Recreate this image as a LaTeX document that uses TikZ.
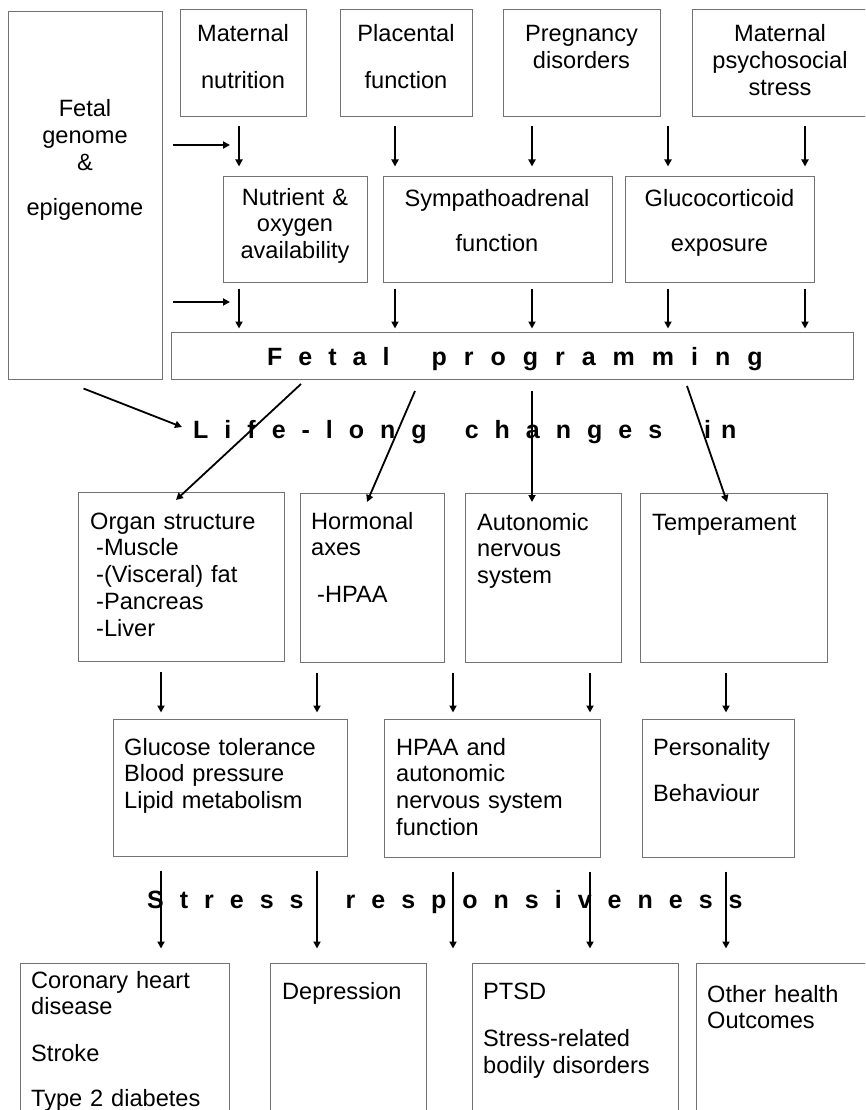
\documentclass[tikz,border=0pt]{standalone}
\usepackage{fontspec}
\setmainfont{Liberation Sans}
\usetikzlibrary{arrows.meta,calc}
\newcommand\lsp{\hspace{16pt}}
\newcommand\lspp{\hspace{17pt}}
\newcommand\wsp{\hspace{42pt}}
\newcommand\bx[5]{\node[box, minimum width=#4pt, minimum height=#5pt] (#1) at (#2,#3) {};}
\begin{document}
\begin{tikzpicture}[x=1pt,y=-1pt,
  box/.style={draw=black!55, line width=1pt, inner sep=0pt, anchor=north west},
  arr/.style={-{Triangle[width=7pt,length=7pt]}, line width=1.8pt, black},
  txt/.style={inner sep=0pt, font=\fontsize{23.6}{26.75}\selectfont},
  ctxt/.style={txt, text width=200pt, align=center, anchor=base},
  ltxt/.style={txt, text width=240pt, align=left, anchor=base west},
  sptxt/.style={inner sep=0pt, font=\fontsize{25}{30}\bfseries\selectfont, anchor=base west}]
\useasboundingbox (0,0) rectangle (865,1110);
\fill[white] (0,0) rectangle (865,1110);
\clip (0,0) rectangle (865,1110);
% boxes
\bx{fg}{8}{11}{154}{368}
\bx{mn}{180}{9}{126}{107}
\bx{pf}{340}{9}{132}{107}
\bx{pd}{503}{9}{157}{107}
\bx{ms}{692}{9}{180}{107}
\bx{no}{223}{176}{144}{106}
\bx{sa}{383}{176}{229}{106}
\bx{gc}{625}{176}{189}{106}
\bx{fp}{171}{332}{682}{47}
\bx{os}{78}{492}{206}{169}
\bx{ha}{300}{493}{144}{169}
\bx{an}{465}{493}{156}{169}
\bx{te}{640}{493}{187}{169}
\bx{gl}{113}{719}{234}{137}
\bx{hp}{384}{719}{216}{138}
\bx{pe}{642}{719}{152}{138}
\bx{co}{20}{963}{209}{167}
\bx{de}{270}{963}{156}{167}
\bx{pt}{472}{963}{206}{167}
\bx{ot}{696}{963}{176}{167}
% box texts
\node[ctxt] (tfg) at (85,117) {Fetal\\genome\\\&\\[18pt]epigenome};
\node[ctxt] (tmn) at (243,42) {Maternal\\[20pt]nutrition};
\node[ctxt] (tpf) at (406,42) {Placental\\[20pt]function};
\node[ctxt] (tpd) at (581.5,42) {Pregnancy\\disorders};
\node[ctxt] (tms) at (780,42) {Maternal\\psychosocial\\stress};
\node[ctxt] (tno) at (295,205) {Nutrient \&\\oxygen\\availability};
\node[ctxt] (tsa) at (497,207) {Sympathoadrenal\\[18pt]function};
\node[ctxt] (tgc) at (719.5,207) {Glucocorticoid\\[18pt]exposure};
\node[ltxt] (tos) at (90,529) {Organ structure\\\hspace*{6pt}-Muscle\\\hspace*{6pt}-(Visceral) fat\\\hspace*{6pt}-Pancreas\\\hspace*{6pt}-Liver};
\node[ltxt] (tha) at (311,529) {Hormonal\\axes\\[20pt]\hspace*{6pt}-HPAA};
\node[ltxt] (tan) at (477,530) {Autonomic\\nervous\\system};
\node[ltxt] (tte) at (652,530) {Temperament};
\node[ltxt] (tgl) at (124,755) {Glucose tolerance\\Blood pressure\\Lipid metabolism};
\node[ltxt] (thp) at (396,755) {HPAA and\\autonomic\\nervous system\\function};
\node[ltxt] (tpe) at (653,755) {Personality\\[20pt]Behaviour};
\node[ltxt] (tco) at (31,988) {Coronary heart\\disease\\[20pt]Stroke\\[18pt]Type 2 diabetes};
\node[ltxt] (tde) at (282,999) {Depression};
\node[ltxt] (tpt) at (483,999) {PTSD\\[21pt]Stress-related\\bodily disorders};
\node[ltxt] (tot) at (707,1002) {Other health\\Outcomes};
% spaced headings
\node[sptxt] (tfp) at (267,365) {F\lsp e\lsp t\lsp a\lsp l\wsp p\lspp r\lspp o\lspp g\lspp r\lspp a\lspp m\lspp m\lspp i\lspp n\lspp g};
\node[sptxt] (ll) at (193,438) {L\lsp i\lsp f\lsp e\lsp -\lsp l\lsp o\lsp n\lsp g\hspace{38pt}c\lsp h\lsp a\lsp n\lsp g\lsp e\lsp s\wsp i\hspace{10pt}n};
\node[sptxt] (sr) at (147,908) {S\lsp t\lsp r\lsp e\lsp s\lsp s\wsp r\lsp e\lsp s\lsp p\lsp o\lsp n\lsp s\lsp i\lsp v\lsp e\lsp n\lsp e\lsp s\lsp s};
% column coordinates
\coordinate (cA) at (239,0);
\coordinate (cB) at (395,0);
\coordinate (cC) at (532,0);
\coordinate (cD) at (668,0);
\coordinate (cE) at (805,0);
\coordinate (kA) at (161,0);
\coordinate (kB) at (317,0);
\coordinate (kC) at (453,0);
\coordinate (kD) at (590,0);
\coordinate (kE) at (726,0);
\coordinate (h1) at (230,145);
\coordinate (h2) at (230,302);
% row 1 arrows
\begin{scope}[shorten <=9.5pt, shorten >=9.5pt]
\draw[arr] (mn.south -| cA) -- (no.north -| cA);
\draw[arr] (pf.south -| cB) -- (sa.north -| cB);
\draw[arr] (pd.south -| cC) -- (sa.north -| cC);
\draw[arr] (pd.south -| cD) -- (gc.north -| cD);
\draw[arr] (ms.south -| cE) -- (gc.north -| cE);
\end{scope}
\draw[arr, shorten <=9.5pt] (fg.east |- h1) -- (h1);
\draw[arr, shorten <=9.5pt] (fg.east |- h2) -- (h2);
% row 2 arrows
\begin{scope}[shorten <=5.5pt, shorten >=3.5pt]
\draw[arr] (no.south -| cA) -- (fp.north -| cA);
\draw[arr] (sa.south -| cB) -- (fp.north -| cB);
\draw[arr] (sa.south -| cC) -- (fp.north -| cC);
\draw[arr] (gc.south -| cD) -- (fp.north -| cD);
\draw[arr] (gc.south -| cE) -- (fp.north -| cE);
\end{scope}
% to life-long changes
\draw[arr] ($(fg.south)+(-2,8.5)$) -- ($(ll.base west)+(-11,-11)$);
\draw[arr] ($(fp.south west)+(130,4)$) -- ($(os.north west)+(98,8)$);
\draw[arr] ($(fp.south west)+(244,11)$) -- ($(ha.north west)+(67,9)$);
\draw[arr] ($(fp.south west)+(361,11)$) -- ($(an.north west)+(67,9)$);
\draw[arr] ($(fp.south west)+(516,6)$) -- ($(te.north west)+(87,9)$);
% row 4 arrows
\begin{scope}[shorten <=10pt, shorten >=6.5pt]
\draw[arr] (os.south -| kA) -- (gl.north -| kA);
\draw[arr] (ha.south -| kB) -- (gl.north -| kB);
\draw[arr] (ha.south -| kC) -- (hp.north -| kC);
\draw[arr] (an.south -| kD) -- (hp.north -| kD);
\draw[arr] (te.south -| kE) -- (pe.north -| kE);
\end{scope}
% row 5 arrows
\begin{scope}[shorten <=13.5pt, shorten >=14.5pt]
\draw[arr] (gl.south -| kA) -- (co.north -| kA);
\draw[arr] (gl.south -| kB) -- (de.north -| kB);
\draw[arr] (hp.south -| kC) -- (pt.north -| kC);
\draw[arr] (hp.south -| kD) -- (pt.north -| kD);
\draw[arr] (pe.south -| kE) -- (ot.north -| kE);
\end{scope}
\end{tikzpicture}
\end{document}
